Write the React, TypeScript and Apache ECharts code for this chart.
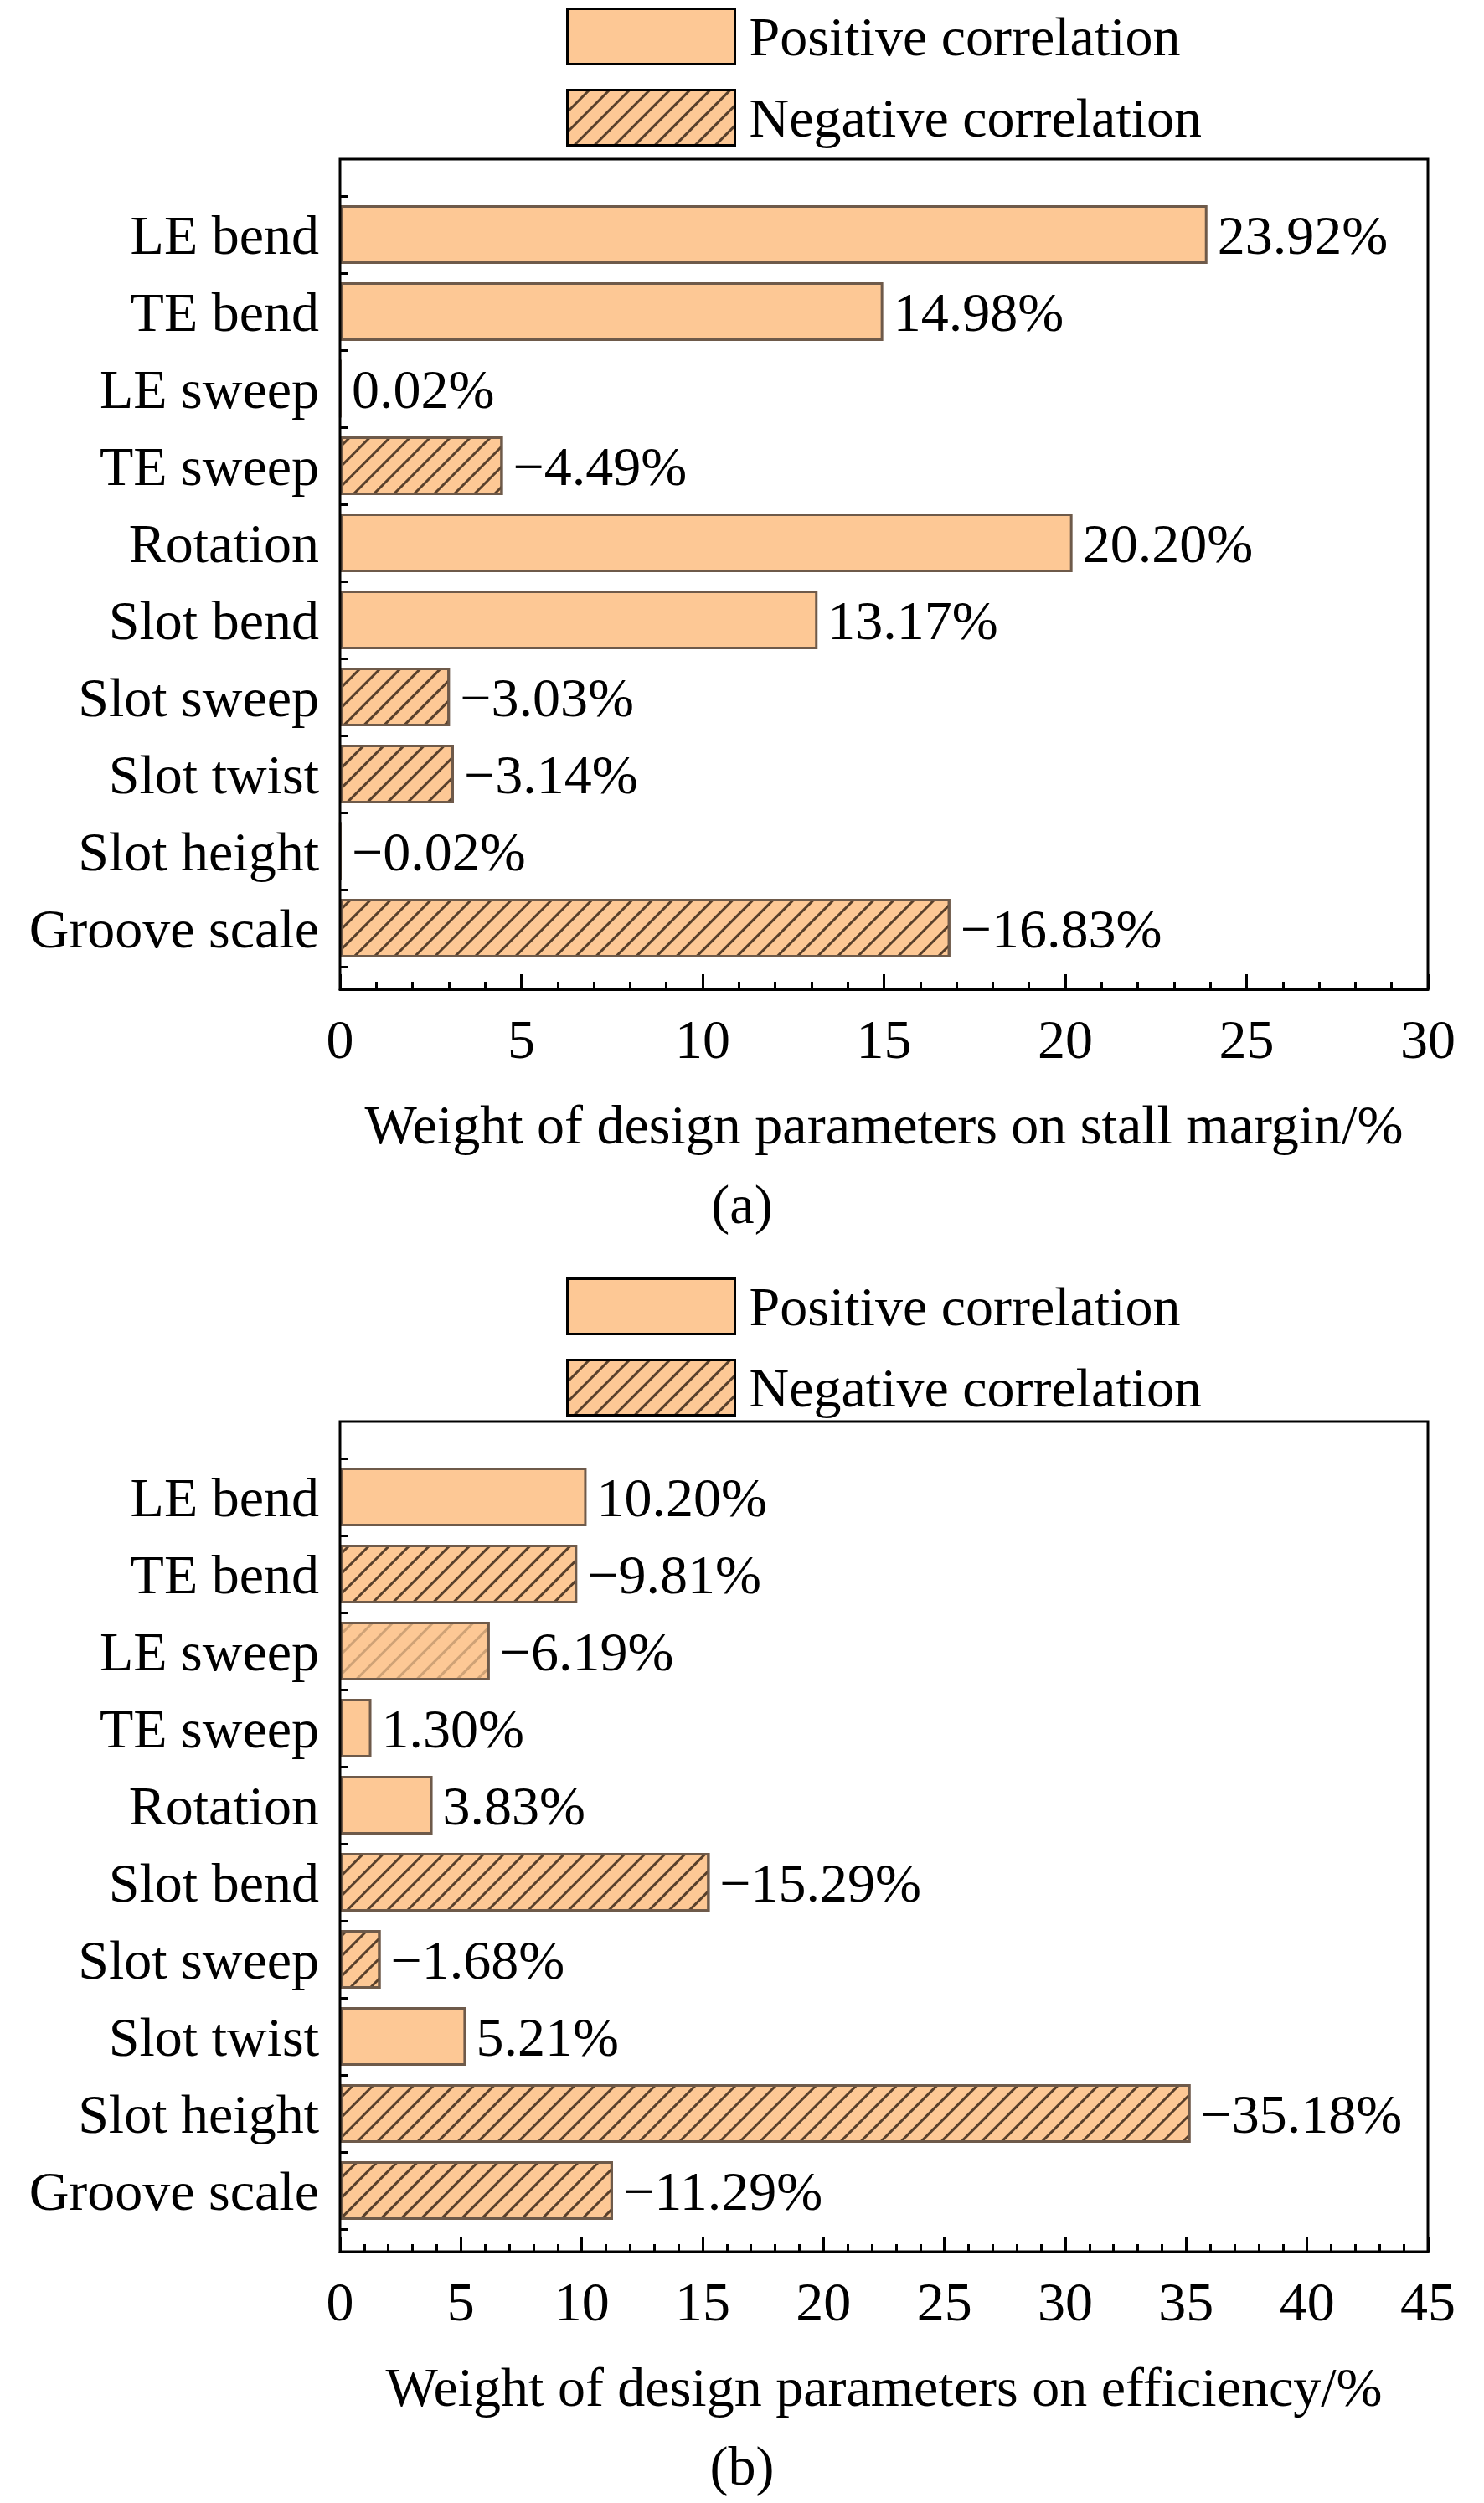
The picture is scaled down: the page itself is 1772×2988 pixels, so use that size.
import { useEffect, useRef } from "react";
import * as echarts from "echarts";

const categories = ["LE bend", "TE bend", "LE sweep", "TE sweep", "Rotation", "Slot bend", "Slot sweep", "Slot twist", "Slot height", "Groove scale"];
const stallValues = [23.92, 14.98, 0.02, -4.49, 20.2, 13.17, -3.03, -3.14, -0.02, -16.83];
const effValues = [10.2, -9.81, -6.19, 1.3, 3.83, -15.29, -1.68, 5.21, -35.18, -11.29];

const FONT = "Liberation Serif";
const FS = 66;
const FILL = "#FDC895";
const EDGE = "#6e5a4a";
const decal = { symbol: "rect", symbolSize: 1, dashArrayX: [1, 0], dashArrayY: [3, 14], rotation: -Math.PI / 4, color: "rgba(60,40,25,0.85)" };
const lightDecal = { ...decal, color: "rgba(120,90,60,0.35)" };

const fmt = (v: number) => (v < 0 ? "\u2212" : "") + Math.abs(v).toFixed(2) + "%";

// frameTop / frameBottom: outer box; categories sit in a slightly inset band
function panel(idx: number, vals: number[], max: number, frameTop: number, name: string, legTop: number, light: number[] = []) {
  const frameH = 991;
  const top = frameTop + 44;
  const height = frameH - 44 - 27;
  const mk = (neg: boolean) => ({
    type: "bar",
    name: neg ? "Negative correlation" : "Positive correlation",
    xAxisIndex: idx,
    yAxisIndex: idx,
    stack: "s" + idx,
    barWidth: 70,
    data: vals.map((v, i) =>
      (v < 0) === neg
        ? light.includes(i)
          ? { value: Math.abs(v), itemStyle: { decal: lightDecal } }
          : Math.abs(v)
        : "-"
    ),
    itemStyle: { color: FILL, borderColor: EDGE, borderWidth: 3, decal: neg ? decal : undefined },
    label: {
      show: true,
      position: "right",
      distance: 12,
      fontFamily: FONT,
      fontSize: FS,
      color: "#000",
      formatter: (p: any) => fmt(vals[p.dataIndex]),
    },
  });
  return {
    grid: { left: 406, right: 67, top, height, show: false },
    frame: { type: "rect", shape: { x: 406, y: frameTop, width: 1772 - 406 - 67, height: frameH }, style: { fill: "none", stroke: "#000", lineWidth: 3 }, z: 10 },
    xAxis: {
      gridIndex: idx, type: "value", min: 0, max, interval: 5, offset: 27,
      name, nameLocation: "middle", nameGap: 128, nameTextStyle: { fontFamily: FONT, fontSize: FS, color: "#000" },
      axisLine: { show: true, lineStyle: { color: "#000", width: 3 } },
      axisTick: { show: true, inside: true, length: 18, lineStyle: { color: "#000", width: 3 } },
      minorTick: { show: true, splitNumber: 5, length: 9, lineStyle: { color: "#000", width: 3 } },
      axisLabel: { fontFamily: FONT, fontSize: FS, color: "#000", margin: 26 },
      splitLine: { show: false },
    },
    yAxis: {
      gridIndex: idx, type: "category", data: categories, inverse: true,
      axisLine: { show: false },
      axisTick: { show: true, inside: true, length: 9, lineStyle: { color: "#000", width: 3 } },
      axisLabel: { fontFamily: FONT, fontSize: FS, color: "#000", margin: 25 },
    },
    series: [mk(false), mk(true)],
    legend: {
      top: legTop, left: 671, orient: "vertical", itemWidth: 200, itemHeight: 66, itemGap: 28, icon: "rect",
      data: ["Positive correlation", "Negative correlation"],
      itemStyle: { borderColor: "#000", borderWidth: 3 },
      textStyle: { fontFamily: FONT, fontSize: FS, color: "#000", padding: [0, 0, 0, 12] },
    },
  };
}

export default function App() {
  const ref = useRef<HTMLDivElement>(null);
  useEffect(() => {
    document.body.style.margin = "0";
    if (!ref.current) return;
    const chart = echarts.init(ref.current, null, { renderer: "svg" });
    const a = panel(0, stallValues, 30, 190, "Weight of design parameters on stall margin/%", 4);
    const b = panel(1, effValues, 45, 1697, "Weight of design parameters on efficiency/%", 1520, [2]);
    chart.setOption({
      animation: false,
      backgroundColor: "#fff",
      grid: [a.grid, b.grid],
      xAxis: [a.xAxis, b.xAxis],
      yAxis: [a.yAxis, b.yAxis],
      series: [...a.series, ...b.series],
      legend: [a.legend, b.legend],
      graphic: [
        a.frame,
        b.frame,
        { type: "text", left: "center", top: 1404, style: { text: "(a)", fontFamily: FONT, fontSize: FS, fill: "#000" } },
        { type: "text", left: "center", top: 2910, style: { text: "(b)", fontFamily: FONT, fontSize: FS, fill: "#000" } },
      ],
    });
    return () => chart.dispose();
  }, []);
  return <div ref={ref} style={{ width: 1772, height: 2988 }} />;
}
